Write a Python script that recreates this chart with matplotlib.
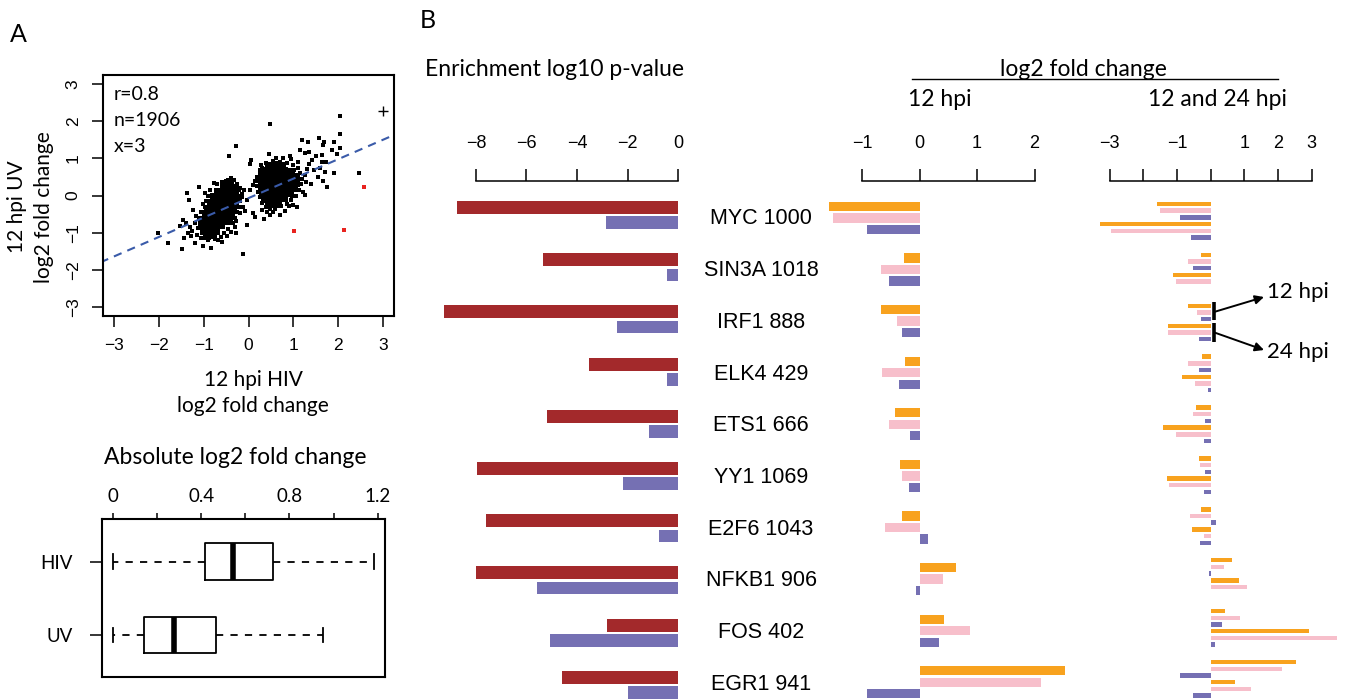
import matplotlib
matplotlib.use('Agg')
import matplotlib.pyplot as plt
import numpy as np

W, H = 1346, 699
HV = ['Liberation Sans', 'DejaVu Sans']
MY = ['Lato', 'DejaVu Sans']

# ---------------- data ----------------
# Panel A scatter: 12 hpi HIV (x) vs 12 hpi UV (y) log2 fold change
scatter_pts = [
    (-0.43, 1.05), (0.06, 0.96), (0.04, 0.86), (-0.28, 1.34), (0.48, 1.92), (2.03, 2.14),
    (2.04, 1.65), (1.20, 1.48), (1.32, 1.43), (1.58, 1.54), (1.69, 1.45), (1.91, 1.43),
    (1.67, 1.36), (2.04, 1.29), (1.15, 1.21), (1.26, 1.14), (1.34, 1.17), (1.86, 1.23),
    (1.63, 1.09), (1.98, 1.11), (0.46, 1.12), (0.93, 1.05), (1.41, 0.96), (1.51, 1.05),
    (1.63, 0.91), (1.72, 0.89), (1.60, 0.74), (1.45, 0.69), (1.71, 0.62), (1.90, 0.60),
    (2.47, 0.60), (1.54, 0.49), (1.66, 0.40), (1.39, 0.31), (1.76, 0.23), (1.26, 0.02),
    (1.08, -0.31), (1.00, -0.25), (-0.03, -0.80), (0.11, -0.47), (0.15, -0.58), (0.35, -0.63),
    (0.48, -0.52), (0.70, -0.52), (0.81, -0.43), (0.03, 0.15), (-0.10, 0.15), (-0.04, -0.12),
    (-0.12, -0.30), (-0.19, -0.47), (0.15, 0.38), (0.11, 0.29), (0.27, 0.83),
    (-1.10, 0.23), (-1.38, 0.06), (-1.32, -0.12), (-0.77, 0.33), (-1.23, -0.38), (-1.46, -0.65),
    (-1.53, -0.83), (-2.01, -1.01), (-1.79, -1.28), (-1.49, -1.43), (-1.19, -1.28), (-1.01, -1.37),
    (-0.84, -1.41), (-0.12, -1.57), (-1.43, -1.15), (-0.08, -0.43), (-0.15, -0.03), (-0.38, 0.47),
    (-1.25, -0.95), (-1.30, -0.85), (-1.15, -1.05), (-1.20, -0.75), (-1.10, -0.60), (-1.05, -0.45),
    (-0.98, -0.30), (-0.95, -0.15), (-0.90, 0.00), (-0.85, 0.15), (-0.70, 0.30), (-0.60, 0.35),
    (-0.50, 0.38), (-0.38, 0.35), (-0.25, 0.30), (-0.22, 0.15), (-0.20, 0.00), (-0.18, -0.15),
    (-0.22, -0.30), (-0.25, -0.45), (-0.30, -0.60), (-0.35, -0.75), (-0.45, -0.90), (-0.55, -1.00),
    (-0.62, -1.12), (-0.75, -1.18), (-0.90, -1.20), (-1.05, -1.15), (-1.35, -1.00), (-1.40, -0.75),
    (-1.18, -0.55), (-0.28, -1.00), (-0.30, -0.85), (-0.60, -1.25), (-0.48, -1.10), (-1.28, -1.10),
    (-0.20, 0.20), (-0.15, 0.05), (-0.32, 0.42), (-0.45, 0.42), (-1.12, -0.88), (-1.08, -0.72),
    (-0.97, 0.08), (-1.02, -0.22), (-0.28, -0.68), (-0.40, -0.98), (-0.68, -1.20),
    (0.25, 0.60), (0.30, 0.75), (0.40, 0.88), (0.55, 0.92), (0.70, 0.90), (0.85, 0.88),
    (1.00, 0.82), (1.10, 0.75), (1.15, 0.60), (1.20, 0.45), (1.18, 0.30), (1.12, 0.15),
    (1.05, 0.00), (0.95, -0.12), (0.85, -0.22), (0.72, -0.28), (0.60, -0.35), (0.48, -0.35),
    (0.38, -0.30), (0.30, -0.20), (0.25, -0.05), (0.22, 0.10), (0.20, 0.25), (0.22, 0.40),
    (1.25, 0.55), (1.28, 0.35), (1.30, 0.70), (0.95, 0.98), (0.78, 1.00), (0.62, 1.00),
    (0.20, 0.50), (1.22, 0.10), (0.90, -0.28), (0.55, -0.45), (0.42, -0.45), (0.30, -0.38),
    (1.35, 0.85), (1.10, 0.90), (1.02, 0.68), (1.08, 0.42), (0.98, -0.02), (0.26, 0.68),
]
# densely packed regions of the two clusters
scatter_core = [
    (-0.55, 0.22), (-0.42, 0.25), (-0.33, 0.20),
    (-0.68, 0.10), (-0.55, 0.08), (-0.42, 0.10), (-0.30, 0.06),
    (-0.78, -0.05), (-0.64, -0.04), (-0.50, -0.06), (-0.37, -0.03), (-0.27, -0.07),
    (-0.84, -0.20), (-0.70, -0.18), (-0.56, -0.21), (-0.42, -0.19), (-0.30, -0.22),
    (-0.90, -0.35), (-0.76, -0.34), (-0.61, -0.36), (-0.47, -0.33), (-0.34, -0.37),
    (-0.95, -0.50), (-0.81, -0.49), (-0.66, -0.51), (-0.52, -0.48), (-0.39, -0.52),
    (-1.00, -0.65), (-0.86, -0.64), (-0.71, -0.66), (-0.57, -0.63), (-0.44, -0.68),
    (-1.04, -0.80), (-0.90, -0.79), (-0.76, -0.81), (-0.62, -0.78),
    (-1.00, -0.95), (-0.86, -0.94), (-0.72, -0.96),
    (-0.93, -1.08), (-0.79, -1.06),
    (0.45, 0.80), (0.60, 0.82), (0.75, 0.78),
    (0.35, 0.66), (0.50, 0.64), (0.65, 0.67), (0.80, 0.65), (0.95, 0.63),
    (0.30, 0.50), (0.45, 0.52), (0.60, 0.49), (0.75, 0.51), (0.90, 0.48), (1.05, 0.50),
    (0.30, 0.35), (0.45, 0.34), (0.60, 0.36), (0.75, 0.33), (0.90, 0.36), (1.05, 0.34),
    (0.30, 0.20), (0.45, 0.21), (0.60, 0.18), (0.75, 0.20), (0.90, 0.19), (1.02, 0.20),
    (0.32, 0.05), (0.47, 0.06), (0.62, 0.04), (0.77, 0.05), (0.92, 0.06),
    (0.36, -0.10), (0.50, -0.09), (0.65, -0.11), (0.80, -0.08),
    (0.46, -0.24), (0.60, -0.23),
]
scatter_red = [(1.02, -0.95), (2.14, -0.93), (2.58, 0.23)]
scatter_plus = [(3.0, 2.26)]
fit_intercept, fit_slope = -0.07, 0.523
stats_text = ['r=0.8', 'n=1906', 'x=3']

# Panel A boxplot: absolute log2 fold change
box_labels = ['UV', 'HIV']
box_whislo = [0.0, 0.0]
box_q1 = [0.140, 0.418]
box_med = [0.278, 0.546]
box_q3 = [0.466, 0.727]
box_whishi = [0.951, 1.183]

# Panel B
tf_names = ['MYC 1000', 'SIN3A 1018', 'IRF1 888', 'ELK4 429', 'ETS1 666',
            'YY1 1069', 'E2F6 1043', 'NFKB1 906', 'FOS 402', 'EGR1 941']
pval_red = [-8.76, -5.34, -9.25, -3.53, -5.18, -7.97, -7.60, -8.00, -2.83, -4.60]
pval_purple = [-2.87, -0.45, -2.42, -0.43, -1.16, -2.19, -0.78, -5.57, -5.08, -1.98]
fc12_orange = [-1.58, -0.28, -0.67, -0.26, -0.43, -0.34, -0.30, 0.64, 0.42, 2.52]
fc12_pink = [-1.50, -0.68, -0.40, -0.66, -0.54, -0.31, -0.60, 0.40, 0.88, 2.11]
fc12_purple = [-0.91, -0.53, -0.30, -0.36, -0.16, -0.18, 0.15, -0.06, 0.34, -0.91]
fc24_orange = [-3.28, -1.12, -1.28, -0.86, -1.42, -1.30, -0.56, 0.84, 2.92, 0.72]
fc24_pink = [-2.96, -1.03, -1.26, -0.47, -1.02, -1.24, -0.19, 1.07, 3.74, 1.20]
fc24_purple = [-0.59, 0.0, -0.34, -0.08, -0.21, -0.20, -0.32, 0.0, 0.13, -0.53]

C_RED = '#A3292B'
C_PURPLE = '#7570B3'
C_ORANGE = '#F8A21E'
C_PINK = '#F7BFCB'

# ---------------- figure ----------------
fig = plt.figure(figsize=(W / 100, H / 100), dpi=100)


def px_axes(x0, y0, x1, y1):
    a = fig.add_axes([x0 / W, 1 - y1 / H, (x1 - x0) / W, (y1 - y0) / H])
    a.patch.set_alpha(0)
    return a


def mlabels(vals):
    return [('\u2212' + str(abs(v))) if v < 0 else str(v) for v in vals]


# --- scatter ---
ax = px_axes(103, 75, 394, 316)
sp = np.array(scatter_pts)
sc = np.array(scatter_core)
sr = np.array(scatter_red)
pl = np.array(scatter_plus)
ax.scatter(sc[:, 0], sc[:, 1], s=33, marker='s', c='black', linewidths=0)
ax.scatter(sp[:, 0], sp[:, 1], s=5, marker='s', c='black', linewidths=0)
ax.scatter(sr[:, 0], sr[:, 1], s=6, marker='s', c='#E8231F', linewidths=0)
ax.scatter(pl[:, 0], pl[:, 1], s=60, marker='+', c='black', linewidths=1.0)
xx = np.array([-3.3, 3.3])
ax.plot(xx, fit_intercept + fit_slope * xx, ls=(0, (4, 3)), color='#3A5BA9', lw=1.5)
ax.set_xlim(-3.245, 3.245)
ax.set_ylim(-3.24, 3.24)
ticks = list(range(-3, 4))
ax.set_xticks(ticks)
ax.set_xticklabels(mlabels(ticks), fontfamily=HV, fontsize=12.5)
ax.set_yticks(ticks)
ax.set_yticklabels(mlabels(ticks), fontfamily=HV, fontsize=12.5, rotation=90, va='center')
ax.tick_params(direction='out', length=8, width=1.1, pad=8)
for s in ax.spines.values():
    s.set_linewidth(1.5)

# --- boxplot ---
bx = px_axes(101.7, 519.3, 385, 677.3)
stats = []
for i in range(2):
    stats.append(dict(label=box_labels[i], whislo=box_whislo[i], q1=box_q1[i], med=box_med[i],
                      q3=box_q3[i], whishi=box_whishi[i], fliers=[]))
bx.bxp(stats, positions=[1, 2], widths=0.5, capwidths=0.2, orientation='horizontal',
       showfliers=False,
       boxprops=dict(color='black', lw=1.3),
       whiskerprops=dict(color='black', lw=1.3, ls=(0, (4, 4))),
       capprops=dict(color='black', lw=1.3),
       medianprops=dict(color='black', lw=4.0, solid_capstyle='butt'))
bx.set_xlim(-0.05, 1.233)
bx.set_ylim(0.423, 2.578)
bx.xaxis.tick_top()
bt = [0, 0.2, 0.4, 0.6, 0.8, 1.0, 1.2]
bx.set_xticks(bt)
bx.set_xticklabels(['0', '', '0.4', '', '0.8', '', '1.2'], fontfamily=MY, fontsize=13.5)
bx.tick_params(axis='x', direction='out', length=4.5, width=1.1, pad=6)
bx.set_yticks([1, 2])
bx.set_yticklabels(box_labels, fontfamily=MY, fontsize=13.5)
bx.tick_params(axis='y', direction='out', length=8.5, width=1.1, pad=12)
for s in bx.spines.values():
    s.set_linewidth(1.5)


# --- panel B bar charts (y in pixel rows) ---
def bar_axes(x0, x1, z0, k, bounds, tks, tlabels):
    a = px_axes(x0, 180.7, x1, 699)
    a.set_xlim((x0 - z0) / k, (x1 - z0) / k)
    a.set_ylim(699, 180.7)
    for nm in ['left', 'right', 'bottom']:
        a.spines[nm].set_visible(False)
    a.spines['top'].set_bounds(*bounds)
    a.spines['top'].set_linewidth(1.1)
    a.xaxis.tick_top()
    a.set_xticks(tks)
    a.set_xticklabels(tlabels, fontfamily=HV, fontsize=13)
    a.tick_params(axis='x', direction='out', length=9, width=1.1, pad=12)
    a.set_yticks([])
    return a


n = len(tf_names)
idx = np.arange(n)

la = bar_axes(430, 700, 678.3, 25.3, (-8, 0), [-8, -6, -4, -2, 0], mlabels([-8, -6, -4, -2, 0]))
la.barh(207.5 + 52.2 * idx, pval_red, height=13, color=C_RED)
la.barh(222.7 + 52.2 * idx, pval_purple, height=12.7, color=C_PURPLE)

ma = bar_axes(800, 1090, 919.6, 57.5, (-1, 2), [-1, 0, 1, 2], mlabels([-1, 0, 1, 2]))
for j, (vals, col) in enumerate([(fc12_orange, C_ORANGE), (fc12_pink, C_PINK), (fc12_purple, C_PURPLE)]):
    ma.barh(206.35 + 51.6 * idx + 11.5 * j, vals, height=9.3, color=col)

ra = bar_axes(1090, 1346, 1210.7, 33.7, (-3, 3), list(range(-3, 4)),
              ['\u22123', '', '\u22121', '', '1', '2', '3'])
six = [(fc12_orange, C_ORANGE), (fc12_pink, C_PINK), (fc12_purple, C_PURPLE),
       (fc24_orange, C_ORANGE), (fc24_pink, C_PINK), (fc24_purple, C_PURPLE)]
for j, (vals, col) in enumerate(six):
    ra.barh(203.9 + 50.9 * idx + 6.7 * j, vals, height=4.4, color=col)

# --- overlay for text & annotations ---
ov = fig.add_axes([0, 0, 1, 1])
ov.set_xlim(0, W)
ov.set_ylim(H, 0)
ov.axis('off')

ov.text(18, 35, 'A', fontfamily=MY, fontsize=18, ha='center', va='center')
ov.text(428, 20, 'B', fontfamily=MY, fontsize=18, ha='center', va='center')
for i, t in enumerate(stats_text):
    ov.text(114, 95 + 26 * i, t, fontfamily=MY, fontsize=14, ha='left', va='center')
ov.text(17, 207, '12 hpi UV', fontfamily=MY, fontsize=15, rotation=90, ha='center', va='center')
ov.text(44, 207, 'log2 fold change', fontfamily=MY, fontsize=15, rotation=90, ha='center', va='center')
ov.text(253, 380, '12 hpi HIV', fontfamily=MY, fontsize=15, ha='center', va='center')
ov.text(253, 406, 'log2 fold change', fontfamily=MY, fontsize=15, ha='center', va='center')
ov.text(235, 458, 'Absolute log2 fold change', fontfamily=MY, fontsize=16.5, ha='center', va='center')

ov.text(425, 70, 'Enrichment log10 p-value', fontfamily=MY, fontsize=16.5, ha='left', va='center')
ov.text(1083, 69, 'log2 fold change', fontfamily=MY, fontsize=16.5, ha='center', va='center')
ov.plot([912, 1278], [79, 79], color='black', lw=1.0)
ov.text(940, 100, '12 hpi', fontfamily=MY, fontsize=16.5, ha='center', va='center')
ov.text(1217, 100, '12 and 24 hpi', fontfamily=MY, fontsize=16.5, ha='center', va='center')

for i, t in enumerate(tf_names):
    ov.text(761, 219 + 51.7 * i, t, fontfamily=HV, fontsize=15.5, ha='center', va='center')

ov.plot([1213.5, 1213.5], [301.7, 320], color='black', lw=2.6, solid_capstyle='butt')
ov.plot([1213.5, 1213.5], [323.3, 342.3], color='black', lw=2.6, solid_capstyle='butt')
ov.annotate('', xy=(1264, 297), xytext=(1215, 311.7),
            arrowprops=dict(arrowstyle='-|>', lw=1.4, color='black', mutation_scale=13, shrinkA=0, shrinkB=0))
ov.annotate('', xy=(1264, 350), xytext=(1215, 332.7),
            arrowprops=dict(arrowstyle='-|>', lw=1.4, color='black', mutation_scale=13, shrinkA=0, shrinkB=0))
ov.text(1267, 292, '12 hpi', fontfamily=MY, fontsize=16, ha='left', va='center')
ov.text(1267, 352, '24 hpi', fontfamily=MY, fontsize=16, ha='left', va='center')

fig.savefig('out.png', dpi=100)
